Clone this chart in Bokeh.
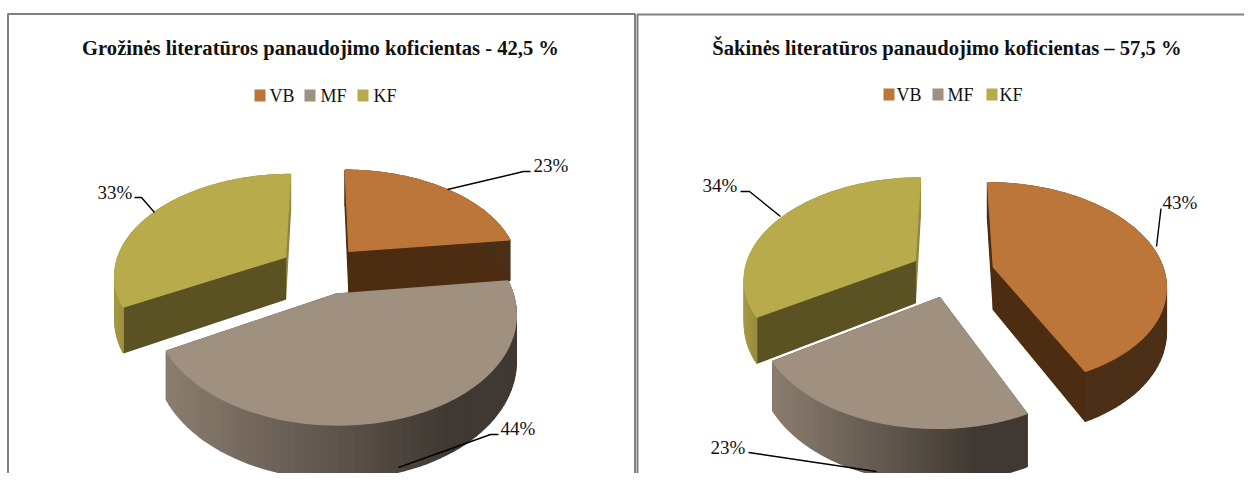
import math
from bokeh.plotting import figure
from bokeh.models import Range1d, ColumnDataSource
from bokeh.core.properties import value
from bokeh.embed import file_html
from bokeh.resources import INLINE

# ---- data ----
categories = ["VB", "MF", "KF"]
values_left = [23, 44, 33]
values_right = [43, 23, 34]
title_left = "Grožinės literatūros panaudojimo koficientas - 42,5 %"
title_right = "Šakinės literatūros panaudojimo koficientas –  57,5 %"
colors = ["#BC763A", "#A09080", "#B8AB4B"]
cut_colors = ["#4C2D12", "#40382F", "#5A5222"]
end_cut_colors = ["#4C2D12", "#40382F", "#8F8540"]

# ---- layout / style ----
WIDTH, HEIGHT = 1244, 473
RX, RY, K, DEPTH, EXPLODE = 171, 100, 0.165, 43, 0.25
RIM_SHADE = [(0.40, 0.40), (0.87, 0.40), (0.90, 0.82)]
FONT = "Liberation Serif"

p = figure(width=WIDTH, height=HEIGHT, output_backend="svg", toolbar_location=None,
           x_range=Range1d(0, WIDTH), y_range=Range1d(HEIGHT, 0), min_border=0,
           background_fill_color="white", border_fill_color="white")
p.axis.visible = False
p.grid.visible = False
p.outline_line_color = None


def shade(hex_color, f):
    r, g, b = [int(hex_color[i:i + 2], 16) for i in (1, 3, 5)]
    return "#%02x%02x%02x" % (int(r * f), int(g * f), int(b * f))


def pie(vals, cx, cy):
    xs, ys, fills = [], [], []

    def add(poly, color):
        xs.append([q[0] for q in poly])
        ys.append([q[1] for q in poly])
        fills.append(color)

    total = float(sum(vals))
    slices, cum = [], 0.0
    for i, v in enumerate(vals):
        a0 = cum / total * 2 * math.pi
        cum += v
        a1 = cum / total * 2 * math.pi
        slices.append((i, a0, a1))

    def apex_v(s):
        m = (s[1] + s[2]) / 2
        return -math.cos(m)

    for i, a0, a1 in sorted(slices, key=apex_v):
        m = (a0 + a1) / 2
        ox, ov = EXPLODE * math.sin(m), -EXPLODE * math.cos(m)

        def pt(X, V, z=0.0):
            w = 1 / (1 - K * V)
            return (cx + RX * X * w, cy + RY * V * w + DEPTH * z * w)

        def rim(t, z=0.0):
            return pt(ox + math.sin(t), ov - math.cos(t), z)

        apex, apex_b = pt(ox, ov), pt(ox, ov, 1)
        # cut faces
        add([apex, rim(a1), rim(a1, 1), apex_b], end_cut_colors[i])
        add([apex, rim(a0), rim(a0, 1), apex_b], cut_colors[i])
        # rim wall with a horizontal gradient
        n = 70
        ts = [a0 + (a1 - a0) * j / n for j in range(n + 1)]
        front = [t for t in ts if -math.cos(t) > -0.25]
        xr = [rim(t)[0] for t in front] or [0, 1]
        lo, hi = min(xr), max(xr)
        fl, fr = RIM_SHADE[i]
        for j in range(n):
            t0, t1 = ts[j], ts[j + 1]
            xm = (rim(t0)[0] + rim(t1)[0]) / 2
            u = min(1, max(0, (xm - lo) / max(hi - lo, 1)))
            c = shade(colors[i], fl + (fr - fl) * min(1, u * 1.25))
            add([rim(t0), rim(t1), rim(t1, 1), rim(t0, 1)], c)
        # top face
        add([apex] + [rim(t) for t in ts], colors[i])

    src = ColumnDataSource(dict(xs=xs, ys=ys, c=fills))
    p.patches("xs", "ys", source=src, fill_color="c", line_color="c", line_width=1.3)


pie(values_left, 321, 269)
pie(values_right, 951.5, 272)

# frames
frame_x = [[7.5, 7.5, 634.5, 634.5], [637, 637, 1244]]
frame_y = [[473, 13.5, 13.5, 473], [473, 14, 14]]
p.multi_line(frame_x, frame_y, line_color="#808080", line_width=2)

# leader lines
lead_x = [[447, 523, 530], [154, 141, 134], [398, 490, 498],
          [1156, 1160.5], [780, 749, 740], [876, 755, 748]]
lead_y = [[189, 171, 171], [212, 197, 197], [467, 434, 434],
          [246, 208], [216, 191, 191], [471, 453, 452]]
p.multi_line(lead_x, lead_y, line_color="#000000", line_width=1.4)


def txt(x, y, s, size, bold=False, align="left"):
    p.text([x], [y], text=[s], text_font=value(FONT), text_font_size=f"{size}px",
           text_font_style="bold" if bold else "normal", text_color="#111111",
           text_align=align, text_baseline="middle")


txt(320, 47, title_left, 20.6, True, "center")
txt(949, 47, title_right, 20.6, True, "center")


def legend(sq_x, text_x, y):
    for i, c in enumerate(categories):
        p.quad(left=[sq_x[i]], right=[sq_x[i] + 11], top=[y - 6], bottom=[y + 6],
               fill_color=colors[i], line_color=None)
        txt(text_x[i], y, c, 18)


legend([254, 304, 357], [269, 320, 373], 95)
legend([883, 932, 986], [896, 947, 999], 94)

pct_left = [f"{v}%" for v in values_left]
pct_right = [f"{v}%" for v in values_right]
txt(533, 165, pct_left[0], 19)
txt(500, 428, pct_left[1], 19)
txt(97, 192, pct_left[2], 19)
txt(1162, 202, pct_right[0], 19)
txt(710, 447, pct_right[1], 19)
txt(702, 185, pct_right[2], 19)

open("out.html", "w").write(file_html(p, INLINE))
